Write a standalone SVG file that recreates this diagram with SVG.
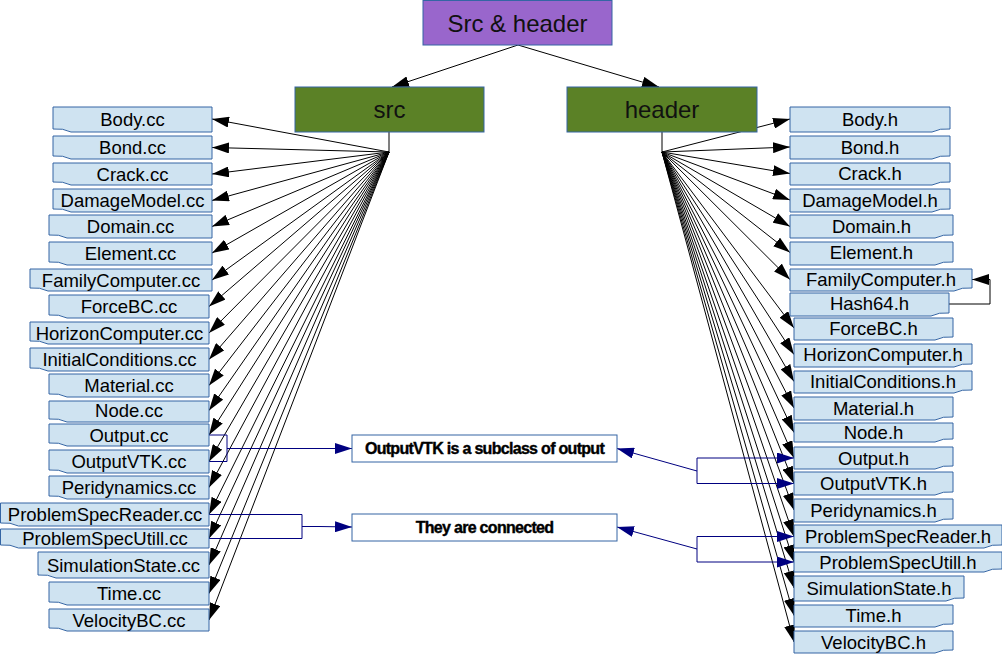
<svg xmlns="http://www.w3.org/2000/svg" width="1002" height="654" viewBox="0 0 1002 654">
<style>
.nd{fill:#cfe3f1;stroke:#3465a4;stroke-width:1}
.tx{font-family:"Liberation Sans",Arial,sans-serif;font-size:18.5px;fill:#000;text-anchor:middle}
.big{font-family:"Liberation Sans",Arial,sans-serif;font-size:24px;fill:#111;text-anchor:middle}
.lb{font-family:"Liberation Sans",Arial,sans-serif;font-size:16px;font-weight:bold;fill:#000;stroke:#000;stroke-width:0.4px;text-anchor:middle;letter-spacing:-0.7px}
.fan line,.fan path{stroke:#000;stroke-width:1;fill:none}
.fan line{marker-end:url(#ah)}
.nv{stroke:#000080;stroke-width:1;fill:none}
</style>
<defs>
<marker id="ah" markerUnits="userSpaceOnUse" markerWidth="17" markerHeight="11" viewBox="0 0 17 11" refX="17" refY="5.5" orient="auto"><path d="M0,0L17,5.5L0,11z" fill="#000"/></marker>
<marker id="an" markerUnits="userSpaceOnUse" markerWidth="17" markerHeight="11" viewBox="0 0 17 11" refX="17" refY="5.5" orient="auto"><path d="M0,0L17,5.5L0,11z" fill="#000080"/></marker>
</defs>

<g id="connectors">
<g class="fan">
<line x1="518" y1="45" x2="392" y2="87"/>
<line x1="518" y1="45" x2="659" y2="87"/>
<path d="M389,132V152"/>
<path d="M662,132V152"/>
<line x1="389" y1="152" x2="212" y2="119"/>
<line x1="389" y1="152" x2="212" y2="147.5"/>
<line x1="389" y1="152" x2="212" y2="174"/>
<line x1="389" y1="152" x2="212" y2="200.5"/>
<line x1="389" y1="152" x2="212" y2="226.5"/>
<line x1="389" y1="152" x2="212" y2="253"/>
<line x1="389" y1="152" x2="212" y2="280"/>
<line x1="389" y1="152" x2="209" y2="306.5"/>
<line x1="389" y1="152" x2="209" y2="333"/>
<line x1="389" y1="152" x2="209" y2="359.5"/>
<line x1="389" y1="152" x2="209" y2="385.5"/>
<line x1="389" y1="152" x2="209" y2="410.5"/>
<line x1="389" y1="152" x2="209" y2="435"/>
<line x1="389" y1="152" x2="209" y2="461.5"/>
<line x1="389" y1="152" x2="209" y2="487.5"/>
<line x1="389" y1="152" x2="209" y2="514.5"/>
<line x1="389" y1="152" x2="209" y2="538.5"/>
<line x1="389" y1="152" x2="209" y2="565"/>
<line x1="389" y1="152" x2="209" y2="593.5"/>
<line x1="389" y1="152" x2="209" y2="620"/>
<line x1="662" y1="152" x2="790" y2="119"/>
<line x1="662" y1="152" x2="790" y2="147"/>
<line x1="662" y1="152" x2="790" y2="173.5"/>
<line x1="662" y1="152" x2="790" y2="200"/>
<line x1="662" y1="152" x2="790" y2="226.5"/>
<line x1="662" y1="152" x2="790" y2="252.5"/>
<line x1="662" y1="152" x2="790" y2="279.5"/>
<line x1="662" y1="152" x2="794" y2="328"/>
<line x1="662" y1="152" x2="794" y2="354.5"/>
<line x1="662" y1="152" x2="794" y2="381.5"/>
<line x1="662" y1="152" x2="794" y2="408"/>
<line x1="662" y1="152" x2="794" y2="432.5"/>
<line x1="662" y1="152" x2="794" y2="458"/>
<line x1="662" y1="152" x2="794" y2="483.5"/>
<line x1="662" y1="152" x2="794" y2="510"/>
<line x1="662" y1="152" x2="794" y2="536.5"/>
<line x1="662" y1="152" x2="794" y2="562"/>
<line x1="662" y1="152" x2="794" y2="588"/>
<line x1="662" y1="152" x2="794" y2="615.5"/>
<line x1="662" y1="152" x2="794" y2="642"/>
<path d="M949,304H990V279.5H972" style="marker-end:url(#ah)"/>
</g>
<path class="nv" d="M209,435H227V461.5H209"/>
<path class="nv" d="M227,448.5H352" marker-end="url(#an)"/>
<path class="nv" d="M209,514.5H302V538.5H209"/>
<path class="nv" d="M302,526.5H319L352,527" marker-end="url(#an)"/>
<path class="nv" d="M697,458V483.5"/>
<path class="nv" d="M697,458H794" marker-end="url(#an)"/>
<path class="nv" d="M697,483.5H794" marker-end="url(#an)"/>
<path class="nv" d="M697,471L617,448.5" marker-end="url(#an)"/>
<path class="nv" d="M697,536.5V562"/>
<path class="nv" d="M697,536.5H794" marker-end="url(#an)"/>
<path class="nv" d="M697,562H794" marker-end="url(#an)"/>
<path class="nv" d="M697,549L617,527" marker-end="url(#an)"/>
</g>

<g id="n-top"><rect x="423" y="0.5" width="189" height="44.5" fill="#9966cc" stroke="#3465a4"/><text class="big" x="517.5" y="31.5">Src &amp; header</text></g>
<g id="n-src"><rect x="295" y="87" width="189" height="45" fill="#5b8126" stroke="#3465a4"/><text class="big" x="389.5" y="118">src</text></g>
<g id="n-header"><rect x="567" y="87" width="190" height="45" fill="#5b8126" stroke="#3465a4"/><text class="big" x="662" y="118">header</text></g>

<g id="l-subclass"><rect x="352" y="435" width="265" height="27" fill="#fff" stroke="#3465a4"/><text class="lb" x="484.5" y="453.5">OutputVTK is a subclass of output</text></g>
<g id="l-connected"><rect x="352" y="514" width="265" height="27" fill="#fff" stroke="#3465a4"/><text class="lb" x="484.5" y="533">They are connected</text></g>

<g id="c-body"><path class="nd" d="M212,107v25H71q-8,-4-18,-3V107z"/><text class="tx" x="132.5" y="125.5">Body.cc</text></g>
<g id="c-bond"><path class="nd" d="M212,136v23H71q-8,-4-18,-3V136z"/><text class="tx" x="132.5" y="154">Bond.cc</text></g>
<g id="c-crack"><path class="nd" d="M212,163v22H71q-8,-4-18,-3V163z"/><text class="tx" x="132.5" y="180.5">Crack.cc</text></g>
<g id="c-damage"><path class="nd" d="M212,189v23H71q-8,-4-18,-3V189z"/><text class="tx" x="132.5" y="207">DamageModel.cc</text></g>
<g id="c-domain"><path class="nd" d="M212,215v23H67q-8,-4-18,-3V215z"/><text class="tx" x="130.5" y="233">Domain.cc</text></g>
<g id="c-element"><path class="nd" d="M212,242v23H67q-8,-4-18,-3V242z"/><text class="tx" x="130.5" y="259.5">Element.cc</text></g>
<g id="c-family"><path class="nd" d="M212,269v22H48q-8,-4-18,-3V269z"/><text class="tx" x="121" y="286.5">FamilyComputer.cc</text></g>
<g id="c-force"><path class="nd" d="M209,295v23H67q-8,-4-18,-3V295z"/><text class="tx" x="129" y="313">ForceBC.cc</text></g>
<g id="c-horizon"><path class="nd" d="M209,322v22H48q-8,-4-18,-3V322z"/><text class="tx" x="119.5" y="339.5">HorizonComputer.cc</text></g>
<g id="c-initial"><path class="nd" d="M209,348v23H48q-8,-4-18,-3V348z"/><text class="tx" x="119.5" y="366">InitialConditions.cc</text></g>
<g id="c-material"><path class="nd" d="M209,374v23H67q-8,-4-18,-3V374z"/><text class="tx" x="129" y="392">Material.cc</text></g>
<g id="c-node"><path class="nd" d="M209,401v21H67q-8,-4-18,-3V401z"/><text class="tx" x="129" y="417">Node.cc</text></g>
<g id="c-output"><path class="nd" d="M209,424v22H67q-8,-4-18,-3V424z"/><text class="tx" x="129" y="441.5">Output.cc</text></g>
<g id="c-outputvtk"><path class="nd" d="M209,450v23H67q-8,-4-18,-3V450z"/><text class="tx" x="129" y="468">OutputVTK.cc</text></g>
<g id="c-peri"><path class="nd" d="M209,476v23H67q-8,-4-18,-3V476z"/><text class="tx" x="129" y="494">Peridynamics.cc</text></g>
<g id="c-psreader"><path class="nd" d="M209,503v23H18.5q-8,-4-18,-3V503z"/><text class="tx" x="105" y="521">ProblemSpecReader.cc</text></g>
<g id="c-psutil"><path class="nd" d="M209,529v19H18.5q-8,-4-18,-3V529z"/><text class="tx" x="105" y="545">ProblemSpecUtill.cc</text></g>
<g id="c-simstate"><path class="nd" d="M209,552v26H56q-8,-4-18,-3V552z"/><text class="tx" x="123.5" y="571.5">SimulationState.cc</text></g>
<g id="c-time"><path class="nd" d="M209,582v23H67q-8,-4-18,-3V582z"/><text class="tx" x="129" y="600">Time.cc</text></g>
<g id="c-velocity"><path class="nd" d="M209,609v22H67q-8,-4-18,-3V609z"/><text class="tx" x="129" y="626.5">VelocityBC.cc</text></g>

<g id="h-body"><path class="nd" d="M790,107h160v22q-10,-1-18,3H790z"/><text class="tx" x="870" y="125.5">Body.h</text></g>
<g id="h-bond"><path class="nd" d="M790,136h160v20q-10,-1-18,3H790z"/><text class="tx" x="870" y="153.5">Bond.h</text></g>
<g id="h-crack"><path class="nd" d="M790,163h160v19q-10,-1-18,3H790z"/><text class="tx" x="870" y="180">Crack.h</text></g>
<g id="h-damage"><path class="nd" d="M790,189h160v20q-10,-1-18,3H790z"/><text class="tx" x="870" y="206.5">DamageModel.h</text></g>
<g id="h-domain"><path class="nd" d="M790,215h163v20q-10,-1-18,3H790z"/><text class="tx" x="871.5" y="233">Domain.h</text></g>
<g id="h-element"><path class="nd" d="M790,242h163v20q-10,-1-18,3H790z"/><text class="tx" x="871.5" y="259">Element.h</text></g>
<g id="h-family"><path class="nd" d="M790,269h182v19q-10,-1-18,3H790z"/><text class="tx" x="881" y="286">FamilyComputer.h</text></g>
<g id="h-hash"><path class="nd" d="M790,293h159v20q-10,-1-18,3H790z"/><text class="tx" x="869.5" y="309.5">Hash64.h</text></g>
<g id="h-force"><path class="nd" d="M794,318h159v19q-10,-1-18,3H794z"/><text class="tx" x="873.5" y="334.5">ForceBC.h</text></g>
<g id="h-horizon"><path class="nd" d="M794,344h178v20q-10,-1-18,3H794z"/><text class="tx" x="883" y="361">HorizonComputer.h</text></g>
<g id="h-initial"><path class="nd" d="M794,371h178v19q-10,-1-18,3H794z"/><text class="tx" x="883" y="388">InitialConditions.h</text></g>
<g id="h-material"><path class="nd" d="M794,397h159v20q-10,-1-18,3H794z"/><text class="tx" x="873.5" y="414.5">Material.h</text></g>
<g id="h-node"><path class="nd" d="M794,423h159v16q-10,-1-18,3H794z"/><text class="tx" x="873.5" y="439">Node.h</text></g>
<g id="h-output"><path class="nd" d="M794,447h159v19q-10,-1-18,3H794z"/><text class="tx" x="873.5" y="464.5">Output.h</text></g>
<g id="h-outputvtk"><path class="nd" d="M794,472h159v20q-10,-1-18,3H794z"/><text class="tx" x="873.5" y="490">OutputVTK.h</text></g>
<g id="h-peri"><path class="nd" d="M794,499h159v20q-10,-1-18,3H794z"/><text class="tx" x="873.5" y="516.5">Peridynamics.h</text></g>
<g id="h-psreader"><path class="nd" d="M794,525h208v20q-10,-1-18,3H794z"/><text class="tx" x="898" y="543">ProblemSpecReader.h</text></g>
<g id="h-psutil"><path class="nd" d="M794,552h208v17q-10,-1-18,3H794z"/><text class="tx" x="898" y="568.5">ProblemSpecUtill.h</text></g>
<g id="h-simstate"><path class="nd" d="M794,576h170v22q-10,-1-18,3H794z"/><text class="tx" x="879" y="594.5">SimulationState.h</text></g>
<g id="h-time"><path class="nd" d="M794,605h159v19q-10,-1-18,3H794z"/><text class="tx" x="873.5" y="622">Time.h</text></g>
<g id="h-velocity"><path class="nd" d="M794,631h159v19q-10,-1-18,3H794z"/><text class="tx" x="873.5" y="648.5">VelocityBC.h</text></g>
</svg>
